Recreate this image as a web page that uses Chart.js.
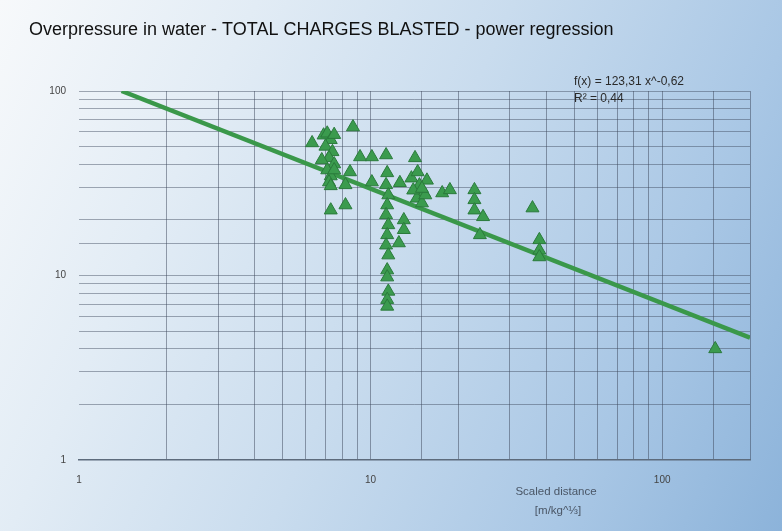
<!DOCTYPE html>
<html lang="en">
<head>
<meta charset="UTF-8">
<script src="https://cdn.jsdelivr.net/npm/chart.js"></script>
<style>
    html, body { margin: 0; padding: 0; }
    body {
        width: 782px; height: 531px; overflow: hidden;
        background: linear-gradient(115deg, #f7f9fb 0%, #e2ecf5 25%, #c9dcee 50%, #a9c7e5 78%, #8cb3da 100%);
    }
    #wrap { position: relative; width: 782px; height: 531px; }
</style>
</head>
<body>
<div id="wrap"><canvas id="chart" width="782" height="531"></canvas></div>
<script>
// measured points: scaled distance [m/kg^1/3] and overpressure
const distance = [
    6.3, 6.9, 7.1, 7.3, 7.0, 7.4, 7.2, 7.5, 7.1, 7.3, 7.2, 7.5, 6.8, 7.5, 7.3,
    8.7, 8.5, 8.2, 9.2, 10.1, 11.3, 7.3, 8.2, 10.1,
    11.4, 11.3, 11.5, 11.4, 11.3, 11.5, 11.4, 11.3, 11.5, 11.4, 11.4, 11.5, 11.4, 11.4,
    12.6, 13.0, 13.0, 12.5,
    14.2, 13.8, 14.7, 15.2, 14.4, 15.0, 15.6, 14.0, 14.5, 15.4, 15.0,
    17.6, 18.7, 22.7, 22.7, 22.7, 24.3, 23.7,
    35.9, 37.9, 37.9, 37.9, 152
];
const pressure = [
    52.3, 57.6, 59, 54.4, 50.1, 46.8, 43.4, 40.2, 37.3, 34.6, 32.1, 58, 42.3, 37.3, 30.6,
    63.8, 36.4, 31.0, 43.9, 43.9, 45, 22.6, 24.1, 32.1,
    36, 31, 27.3, 24.1, 21.3, 18.8, 16.6, 14.6, 12.9, 10.7, 9.8, 8.2, 7.4, 6.8,
    31.8, 20.0, 17.7, 15.0,
    43.4, 33.7, 30.9, 28.2, 26.2, 24.7, 32.8, 29.0, 36.4, 27.3, 29.6,
    28.0, 29.1, 29.1, 25.7, 22.6, 20.8, 16.6,
    23.2, 15.6, 13.7, 12.6, 4.0
];
// power regression f(x) = 123.31 x^-0.62, end points as drawn
const fitX = [1.4, 200];
const fitY = [100, 4.6];
const xLabels = [1, 10, 100];
const yLabels = [1, 10, 100];

const pts = distance.map((d, i) => ({ x: d, y: pressure[i] }));
const fit = fitX.map((d, i) => ({ x: d, y: fitY[i] }));

const textPlugin = {
    id: 'texts',
    afterDraw(chart) {
        const ctx = chart.ctx;
        ctx.save();
        ctx.fillStyle = '#111';
        ctx.textBaseline = 'middle';
        ctx.textAlign = 'left';
        ctx.font = '18px "Liberation Sans", Arial, sans-serif';
        ctx.fillText('Overpressure in water - TOTAL CHARGES BLASTED - power regression', 29, 30, 592);
        ctx.fillStyle = '#2a2a2a';
        ctx.font = '12px "Liberation Sans", Arial, sans-serif';
        ctx.fillText('f(x) = 123,31 x^-0,62', 574, 82, 140);
        ctx.fillText('R² = 0,44', 574, 99);
        ctx.fillStyle = '#4a5666';
        ctx.textAlign = 'center';
        ctx.font = '11.5px "Liberation Sans", Arial, sans-serif';
        ctx.fillText('Scaled distance', 556, 492);
        ctx.fillText('[m/kg^⅓]', 558, 511);
        ctx.restore();
    }
};

new Chart(document.getElementById('chart'), {
    type: 'scatter',
    data: {
        datasets: [{
            data: fit,
            showLine: true,
            borderColor: '#3a984a',
            borderWidth: 4.5,
            pointRadius: 0,
            order: 2
        }, {
            data: pts,
            pointStyle: 'triangle',
            pointRadius: 7.5,
            backgroundColor: '#3b9b4e',
            borderColor: '#2a7a3b',
            borderWidth: 1,
            order: 1
        }]
    },
    options: {
        responsive: false,
        animation: false,
        layout: { padding: { top: 91, right: 32, left: 0, bottom: 0 } },
        plugins: { legend: { display: false }, tooltip: { enabled: false } },
        scales: {
            x: {
                type: 'logarithmic',
                min: 1, max: 200,
                afterFit: s => { s.height = 71; },
                border: { display: true, color: '#5d6b7c', width: 1.5 },
                grid: {
                    drawTicks: false,
                    color: c => c.tick && c.tick.value === 1 ? 'rgba(0,0,0,0)' : 'rgba(60,70,90,0.5)'
                },
                ticks: {
                    autoSkip: false, maxRotation: 0, padding: 14,
                    color: '#444',
                    font: { family: '"Liberation Sans", Arial, sans-serif', size: 10 },
                    callback: v => xLabels.includes(v) ? String(v) : ''
                }
            },
            y: {
                type: 'logarithmic',
                min: 1, max: 100,
                afterFit: s => { s.width = 79; },
                border: { display: false },
                grid: {
                    drawTicks: false,
                    color: c => c.tick && c.tick.value === 1 ? 'rgba(0,0,0,0)' : 'rgba(60,70,90,0.45)'
                },
                ticks: {
                    autoSkip: false, padding: 13,
                    color: '#444',
                    font: { family: '"Liberation Sans", Arial, sans-serif', size: 10 },
                    callback: v => yLabels.includes(v) ? String(v) : ''
                }
            }
        }
    },
    plugins: [textPlugin]
});
</script>
</body>
</html>
